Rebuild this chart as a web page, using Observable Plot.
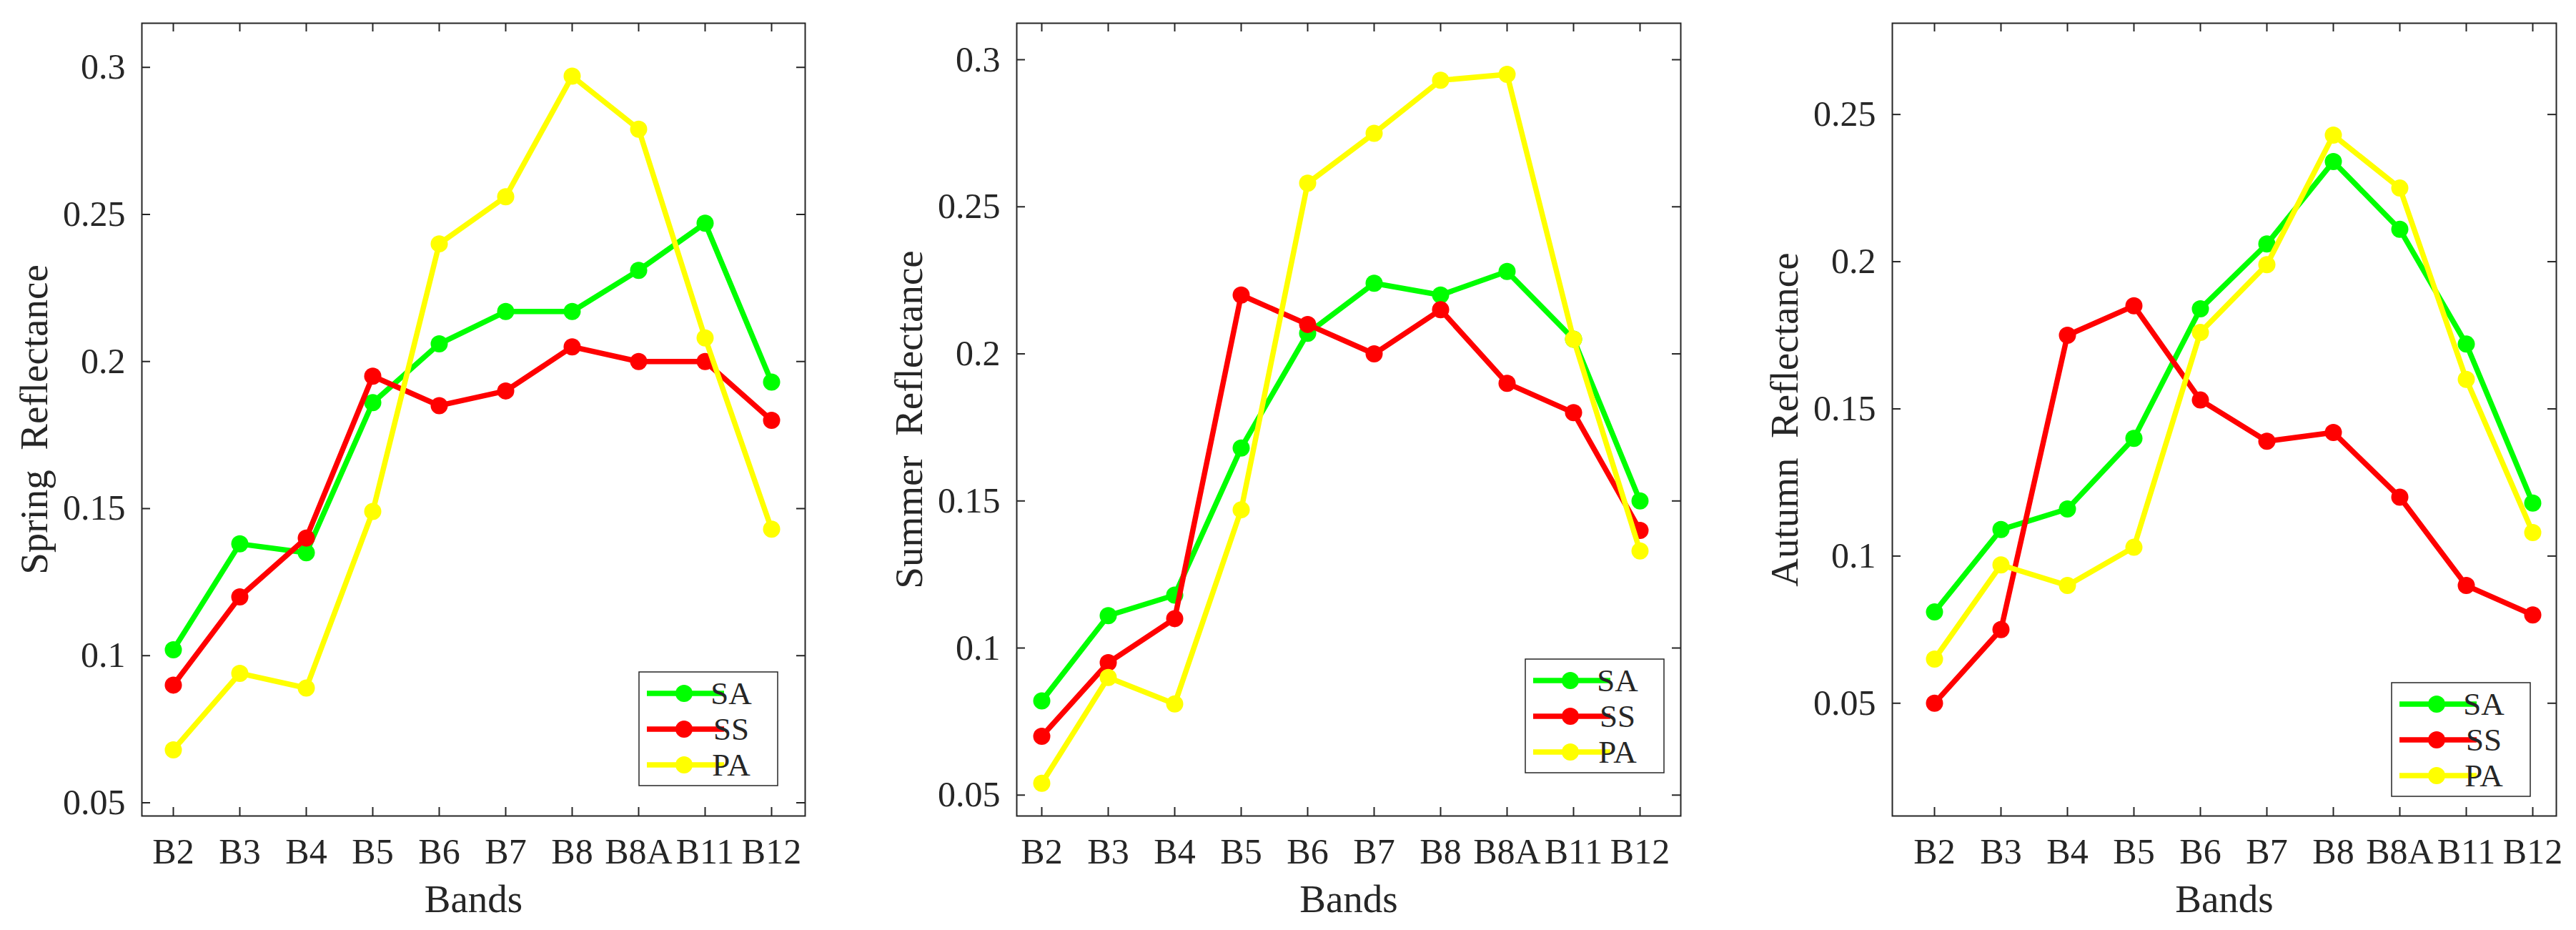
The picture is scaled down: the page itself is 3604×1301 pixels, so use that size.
<!DOCTYPE html>
<html>
<head>
<meta charset="utf-8">
<script src="https://cdn.jsdelivr.net/npm/d3@7"></script>
<script src="https://cdn.jsdelivr.net/npm/@observablehq/plot@0.6"></script>
<style>
  html, body { margin: 0; padding: 0; background: #fff; overflow: hidden; }
  #wrap { position: relative; width: 3604px; height: 1301px; background: #fff; }
  #wrap svg { position: absolute; top: 0; }
</style>
</head>
<body>
<div id="wrap"></div>
<script>
// ---- data ----
const bands = ["B2", "B3", "B4", "B5", "B6", "B7", "B8", "B8A", "B11", "B12"];
const series = ["SA", "SS", "PA"];
const colors = ["#00ff00", "#ff0000", "#ffff00"];

const springSA = [0.102, 0.138, 0.135, 0.186, 0.206, 0.217, 0.217, 0.231, 0.247, 0.193];
const springSS = [0.090, 0.120, 0.140, 0.195, 0.185, 0.190, 0.205, 0.200, 0.200, 0.180];
const springPA = [0.068, 0.094, 0.089, 0.149, 0.240, 0.256, 0.297, 0.279, 0.208, 0.143];

const summerSA = [0.082, 0.111, 0.118, 0.168, 0.207, 0.224, 0.220, 0.228, 0.205, 0.150];
const summerSS = [0.070, 0.095, 0.110, 0.220, 0.210, 0.200, 0.215, 0.190, 0.180, 0.140];
const summerPA = [0.054, 0.090, 0.081, 0.147, 0.258, 0.275, 0.293, 0.295, 0.205, 0.133];

const autumnSA = [0.081, 0.109, 0.116, 0.140, 0.184, 0.206, 0.234, 0.211, 0.172, 0.118];
const autumnSS = [0.050, 0.075, 0.175, 0.185, 0.153, 0.139, 0.142, 0.120, 0.090, 0.080];
const autumnPA = [0.065, 0.097, 0.090, 0.103, 0.176, 0.199, 0.243, 0.225, 0.160, 0.108];

const yTicksA = [0.05, 0.1, 0.15, 0.2, 0.25, 0.3];
const yLabelsA = ["0.05", "0.1", "0.15", "0.2", "0.25", "0.3"];
const yTicksB = [0.05, 0.1, 0.15, 0.2, 0.25];
const yLabelsB = ["0.05", "0.1", "0.15", "0.2", "0.25"];

const xTitle = "Bands";
const ink = "#262626";
const FONT = "'Liberation Serif', 'Times New Roman', serif";

const panels = [
  { left: 0, width: 1200, ml: 198, mr: 74, yDomain: [0.0455, 0.315], pad: 0.489, align: 0.48,
    yTicks: yTicksA, yLabels: yLabelsA, label: "Spring\u00a0\u00a0Reflectance",
    values: [springSA, springSS, springPA], legend: { x: 894, y: 940 } },
  { left: 1200, width: 1200, ml: 222, mr: 49, yDomain: [0.0429, 0.3124], pad: 0.493, align: 0.378,
    yTicks: yTicksA, yLabels: yLabelsA, label: "Summer\u00a0\u00a0Reflectance",
    values: [summerSA, summerSS, summerPA], legend: { x: 934, y: 922 } },
  { left: 2400, width: 1204, ml: 247, mr: 28, yDomain: [0.0117, 0.281], pad: 0.49, align: 0.64,
    yTicks: yTicksB, yLabels: yLabelsB, label: "Autumn\u00a0\u00a0Reflectance",
    values: [autumnSA, autumnSS, autumnPA], legend: { x: 946, y: 955 } }
];

const HEIGHT = 1301, MT = 32, MB = 160;
const wrap = document.getElementById("wrap");

panels.forEach(cfg => {
  const rows = [];
  series.forEach((s, si) => cfg.values[si].forEach((v, i) => rows.push({ band: bands[i], value: v, series: s })));
  const H = HEIGHT - MT - MB;
  const W = cfg.width - cfg.ml - cfg.mr;
  const tl = 12;

  const marks = [
    // inward ticks on all four sides
    Plot.tickX(bands, { x: d => d, insetTop: H - tl, stroke: ink, strokeWidth: 2 }),
    Plot.tickX(bands, { x: d => d, insetBottom: H - tl, stroke: ink, strokeWidth: 2 }),
    Plot.tickY(cfg.yTicks, { y: d => d, insetRight: W - tl, stroke: ink, strokeWidth: 2 }),
    Plot.tickY(cfg.yTicks, { y: d => d, insetLeft: W - tl, stroke: ink, strokeWidth: 2 }),
    // tick labels
    Plot.text(bands, { x: d => d, frameAnchor: "bottom", dy: 66, lineAnchor: "bottom", fontSize: 50, fill: ink }),
    Plot.text(cfg.yTicks, { y: d => d, text: (d, i) => cfg.yLabels[i], frameAnchor: "left", dx: -23,
      textAnchor: "end", lineAnchor: "middle", fontSize: 50, fill: ink }),
    // axis titles
    Plot.text([xTitle], { frameAnchor: "bottom", dy: 134, lineAnchor: "bottom", fontSize: 55, fill: ink }),
    Plot.text([cfg.label], { frameAnchor: "left", dx: -133, rotate: -90, lineAnchor: "bottom",
      textAnchor: "middle", fontSize: 55, fill: ink })
  ];
  series.forEach((s, si) => {
    const d = rows.filter(r => r.series === s);
    marks.push(Plot.line(d, { x: "band", y: "value", stroke: colors[si], strokeWidth: 7.5, strokeLinejoin: "round" }));
    marks.push(Plot.dot(d, { x: "band", y: "value", fill: colors[si], r: 12 }));
  });
  marks.push(Plot.frame({ stroke: ink, strokeWidth: 2 }));

  const svg = Plot.plot({
    width: cfg.width, height: HEIGHT,
    marginLeft: cfg.ml, marginRight: cfg.mr, marginTop: MT, marginBottom: MB,
    style: { fontFamily: FONT, background: "white", color: ink, overflow: "visible" },
    x: { type: "point", domain: bands, padding: cfg.pad, align: cfg.align, axis: null },
    y: { type: "linear", domain: cfg.yDomain, axis: null },
    marks
  });
  svg.style.left = cfg.left + "px";

  // legend
  const g = d3.select(svg).append("g").attr("transform", `translate(${cfg.legend.x},${cfg.legend.y})`);
  g.append("rect").attr("width", 194).attr("height", 159).attr("fill", "white").attr("stroke", ink).attr("stroke-width", 1.5);
  series.forEach((s, si) => {
    const cy = 30 + si * 50;
    g.append("line").attr("x1", 11).attr("x2", 119).attr("y1", cy).attr("y2", cy)
      .attr("stroke", colors[si]).attr("stroke-width", 7.5);
    g.append("circle").attr("cx", 63).attr("cy", cy).attr("r", 12).attr("fill", colors[si]);
    g.append("text").attr("x", 129).attr("y", cy + 15).attr("font-size", 45).attr("fill", ink)
      .attr("font-family", FONT).text(s);
  });

  wrap.appendChild(svg);
});
</script>
</body>
</html>
